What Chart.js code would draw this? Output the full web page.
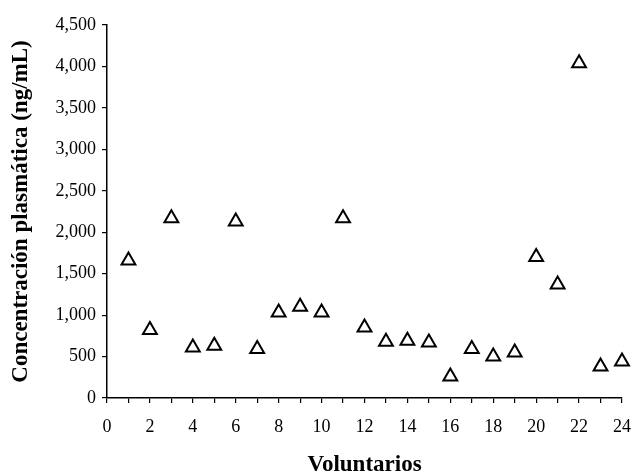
<!DOCTYPE html>
<html>
<head>
<meta charset="utf-8">
<script src="https://cdn.jsdelivr.net/npm/chart.js@4"></script>
<style>
  html, body { margin: 0; padding: 0; background: #fff; }
  #wrap { width: 636px; height: 475px; }
</style>
</head>
<body>
<div id="wrap"><canvas id="grafico" width="636" height="475"></canvas></div>
<script>
// voluntarios y concentraciones
const voluntarios = [1, 2, 3, 4, 5, 6, 7, 8, 9, 10, 11, 12, 13, 14, 15, 16, 17, 18, 19, 20, 21, 22, 23, 24];
const concentraciones = [1660, 820, 2170, 610, 630, 2130, 590, 1030, 1100, 1030, 2170, 850, 680, 690, 670, 260, 590, 500, 550, 1700, 1370, 4040, 380, 440];
const ticksY = [0, 500, 1000, 1500, 2000, 2500, 3000, 3500, 4000, 4500];

const puntos = voluntarios.map((v, i) => ({ x: v, y: concentraciones[i] }));
const fuente = 'Liberation Serif';

const ctx = document.getElementById('grafico').getContext('2d');
new Chart(ctx, {
    type: 'scatter',
    data: {
        datasets: [{
            data: puntos,
            clip: false,
            pointStyle: 'triangle',
            pointRadius: 8,
            pointBorderWidth: 2,
            pointBorderColor: '#000',
            pointBackgroundColor: '#fff'
        }]
    },
    options: {
        responsive: false,
        animation: false,
        layout: { padding: { top: 25, right: 0, left: 0, bottom: 0 } },
        plugins: { legend: { display: false }, tooltip: { enabled: false } },
        scales: {
            x: {
                type: 'linear',
                min: 0,
                max: 24,
                afterFit: (scale) => {
                    scale.height = 77;
                    scale.paddingLeft = 0;
                    scale.paddingRight = 14;
                },
                border: { display: true, color: '#000', width: 1.5 },
                grid: { drawOnChartArea: false, drawTicks: true, tickLength: 5, color: '#000', lineWidth: 1.2 },
                ticks: {
                    stepSize: 1,
                    autoSkip: false,
                    maxRotation: 0,
                    padding: 13,
                    color: '#000',
                    font: { family: fuente, size: 18 },
                    callback: (v) => (v % 2 === 0 ? String(v) : '')
                },
                title: {
                    display: true,
                    text: 'Voluntarios',
                    color: '#000',
                    font: { family: fuente, size: 23, weight: 'bold', lineHeight: 1 },
                    padding: { top: 0, bottom: -2 }
                }
            },
            y: {
                min: 0,
                max: 4500,
                afterFit: (scale) => { scale.width = 107; },
                afterBuildTicks: (scale) => { scale.ticks = ticksY.map(v => ({ value: v })); },
                border: { display: true, color: '#000', width: 1.5 },
                grid: { drawOnChartArea: false, drawTicks: true, tickLength: 5, color: '#000', lineWidth: 1.2 },
                ticks: {
                    padding: 6,
                    color: '#000',
                    font: { family: fuente, size: 18 },
                    callback: (v) => v.toLocaleString('en-US')
                },
                title: {
                    display: true,
                    text: 'Concentración plasmática (ng/mL)',
                    color: '#000',
                    font: { family: fuente, size: 23, weight: 'bold', lineHeight: 1 },
                    padding: { top: 10, bottom: 0 }
                }
            }
        }
    }
});
</script>
</body>
</html>
